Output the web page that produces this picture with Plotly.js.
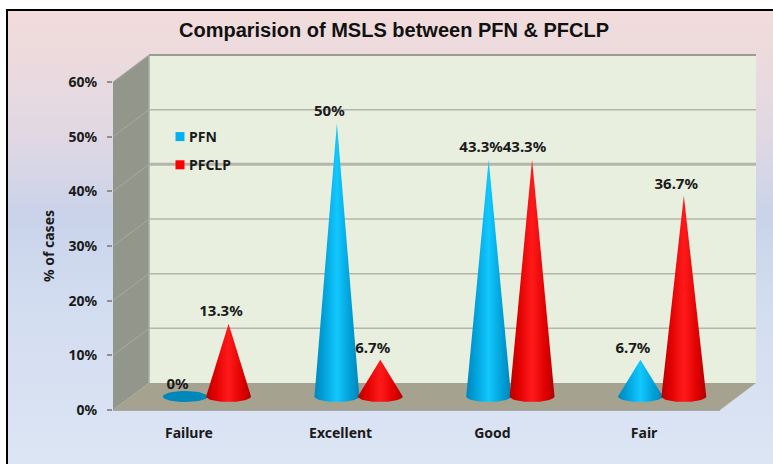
<!DOCTYPE html>
<html><head><meta charset="utf-8">
<script src="https://cdn.plot.ly/plotly-3.0.1.min.js"></script>
<style>
html,body{margin:0;padding:0;background:#fff;overflow:hidden}
#frame{position:absolute;left:6px;top:9px;width:780px;height:470px;border:2px solid #000;
background:linear-gradient(180deg,#f2dcdb 0%,#e2d8e2 25%,#c9d3ea 44%,#d2dcf0 60%,#dde6f4 100%)}
#chart{position:absolute;left:0;top:0;width:773px;height:464px}
</style></head><body>
<div id="frame"></div><div id="chart"></div>
<script>
const categories=['Failure','Excellent','Good','Fair'];
const seriesNames=['PFN','PFCLP'];
const pfn=[0,50,43.3,6.7];
const pfclp=[13.3,6.7,43.3,36.7];
const yTicks=[0,10,20,30,40,50,60];
const yTickText=['0%','10%','20%','30%','40%','50%','60%'];

const xMin=-0.5, xMax=3.5, yMax=60;
const depthX=36/151.75, depthY=27/5.467;
const midX=depthX/2, midY=depthY/2;
const groupOff=0.143, rx=0.148, ry=1.0;
const blueScale=[[0,'#0086bd'],[0.2,'#00a0d8'],[0.5,'#12c8ff'],[0.8,'#009fd6'],[1,'#0084b8']];
const redScale=[[0,'#b80000'],[0.2,'#e00000'],[0.5,'#ff1a1a'],[0.8,'#e00000'],[1,'#b00000']];

function cone(cat,off,v,scale,flat,group){
  const cx=cat+midX+off, xs=[], ys=[];
  if(v>0){xs.push(cx-rx,cx);ys.push(midY,v+midY);}
  const n=36, stop=v>0?Math.PI:2*Math.PI;
  for(let i=0;i<=n;i++){const a=stop*i/n;
    xs.push(cx+rx*Math.cos(a));ys.push(midY-ry*Math.sin(a));}
  const t={type:'scatter',mode:'lines',x:xs,y:ys,fill:'toself',line:{width:0},showlegend:false,hoverinfo:'skip',legendgroup:group};
  if(v>0){t.fillgradient={type:'horizontal',colorscale:scale};} else {t.fillcolor=flat;}
  return t;
}
const traces=[];
[[seriesNames[0],'#00b0f0'],[seriesNames[1],'#ff0000']].forEach(([n,c])=>traces.push({type:'scatter',mode:'markers',x:[null],y:[null],name:n,legendgroup:n,
  marker:{symbol:'square',size:9,color:c},showlegend:true}));
categories.forEach((c,i)=>{
  traces.push(cone(i,-groupOff,pfn[i],blueScale,'#0088bb',seriesNames[0]));
  traces.push(cone(i,groupOff,pfclp[i],redScale,'#cc0000',seriesNames[1]));
});
function labels(arr,off){
  return {type:'scatter',mode:'text',x:categories.map((c,i)=>i+midX+off-0.05),
    y:arr.map(v=>v+midY+0.65),text:arr.map(v=>v+'%'),textposition:'top center',
    textfont:{family:'Noto Sans',size:15,color:'#1a1a1a',weight:700},showlegend:false,hoverinfo:'skip',cliponaxis:false};
}
traces.push(labels(pfn,-groupOff));
traces.push(labels(pfclp,groupOff));

// walls and floor sit behind the front plane, so they run past the axes' box
const px=x=>(x-xMin)/(xMax-xMin), py=v=>v/yMax;
const shapes=[];
const L=xMin,R=xMax,T=yMax;
function poly(pts,fill){return {type:'path',xref:'paper',yref:'paper',layer:'below',
  path:'M'+pts.map(p=>px(p[0])+' '+py(p[1])).join('L')+'Z',fillcolor:fill,line:{width:0}};}
function seg(x0,y0,x1,y1,color,width){return {type:'line',xref:'paper',yref:'paper',layer:'below',
  x0:px(x0),x1:px(x1),y0:py(y0),y1:py(y1),line:{color:color,width:width}};}
shapes.push(poly([[L+depthX,depthY],[R+depthX,depthY],[R+depthX,T+depthY],[L+depthX,T+depthY]],'#e9efdf'));
shapes.push(poly([[L,0],[L+depthX,depthY],[L+depthX,T+depthY],[L,T]],'#93968a'));
shapes.push(poly([[L,0],[R,0],[R+depthX,depthY],[L+depthX,depthY]],'#a5a38f'));
yTicks.forEach(v=>{
  const w=v===40?3:(v===60?2:1.5);
  if(v>0) shapes.push(seg(L+depthX,v+depthY,R+depthX,v+depthY,v===60?'#9a9c92':'#b4b6a9',w));
  shapes.push(seg(L,v,L+depthX,v+depthY,'#a8aa9e',1));
});
shapes.push(seg(L+depthX,depthY,L+depthX,T+depthY,'#a9ab9f',1.5));
shapes.push(seg(L,0,R,0,'#9b9b95',1.5));

const layout={width:773,height:464,paper_bgcolor:'rgba(0,0,0,0)',plot_bgcolor:'rgba(0,0,0,0)',
  margin:{l:113,r:53,t:82,b:54,pad:0},showlegend:true,
  title:{text:'Comparision of MSLS between PFN & PFCLP',font:{family:'Liberation Sans',size:20,color:'#111',weight:700},x:394/773,xanchor:'center',y:1-30/464,yanchor:'middle'},
  xaxis:{range:[xMin,xMax],tickvals:[0,1,2,3],ticktext:categories,zeroline:false,showgrid:false,showline:false,
    ticks:'outside',ticklen:10,tickcolor:'rgba(0,0,0,0)',tickfont:{family:'Noto Sans',size:14,color:'#1a1a1a',weight:700}},
  yaxis:{range:[0,yMax],tickvals:yTicks,ticktext:yTickText,zeroline:false,showgrid:false,showline:false,
    ticks:'outside',ticklen:5,tickcolor:'#8f8f8f',tickwidth:1.5,ticklabelstandoff:7,
    tickfont:{family:'Noto Sans',size:14,color:'#1a1a1a',weight:700},
    title:{text:'% of cases',font:{family:'Noto Sans',size:14,color:'#1a1a1a',weight:700},standoff:10}},
  legend:{x:(160-113)/607,y:(410-121)/328,xanchor:'left',yanchor:'top',bgcolor:'rgba(0,0,0,0)',borderwidth:0,
    tracegroupgap:7,font:{family:'Noto Sans',size:14,color:'#1a1a1a',weight:700}},
  shapes:shapes};
Plotly.newPlot('chart',traces,layout,{displayModeBar:false}).then(()=>{
  document.querySelectorAll('#chart .legendtext').forEach(t=>{
    t.setAttribute('x',parseFloat(t.getAttribute('x'))-11);
  });
});
</script></body></html>
